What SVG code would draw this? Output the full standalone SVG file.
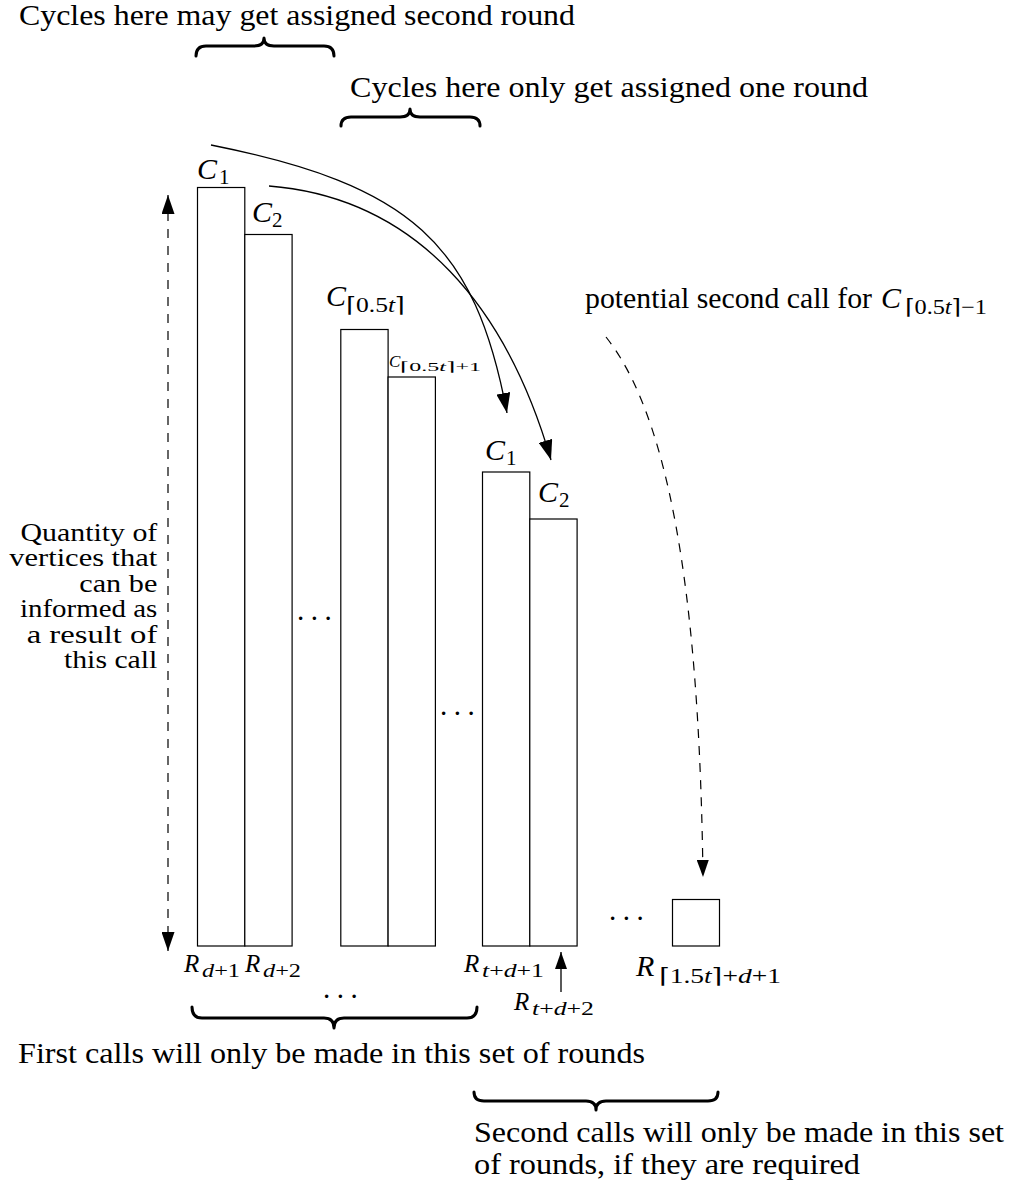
<svg xmlns="http://www.w3.org/2000/svg" width="1015" height="1184" viewBox="0 0 1015 1184">
  <style>
    text { font-family: "Liberation Serif", "DejaVu Serif", serif; fill: #000; }
    .txt { font-size: 29px; }
    .side { font-size: 25px; }
    .m { font-style: italic; font-size: 30px; }
    .ms { font-size: 21px; }
    .rm { font-style: italic; font-size: 25px; }
    .rs { font-size: 18px; }
    .it { font-style: italic; }
    .bar { fill: #fff; stroke: #000; stroke-width: 1.2; }
    .brace { fill: none; stroke: #000; stroke-width: 3; stroke-linecap: round; stroke-linejoin: round; }
    .curve { fill: none; stroke: #000; stroke-width: 1.3; }
    .dash { fill: none; stroke: #000; stroke-width: 1.2; stroke-dasharray: 9 8; }
    .dots { font-size: 29px; letter-spacing: 6.5px; }
  </style>
  <defs>
    <marker id="head" viewBox="0 0 20 14" refX="20" refY="7" markerWidth="20" markerHeight="14" markerUnits="userSpaceOnUse" orient="auto">
      <path d="M0,0 L20,7 L0,14 Z" fill="#000"/>
    </marker>
    <marker id="headDash" viewBox="0 0 19 13" refX="19" refY="6.5" markerWidth="19" markerHeight="13" markerUnits="userSpaceOnUse" orient="auto-start-reverse">
      <path d="M0,0 L19,6.5 L0,13 Z" fill="#000"/>
    </marker>
    <marker id="headSmall" viewBox="0 0 17 12" refX="17" refY="6" markerWidth="17" markerHeight="12" markerUnits="userSpaceOnUse" orient="auto">
      <path d="M0,0 L17,6 L0,12 Z" fill="#000"/>
    </marker>
  </defs>

  <!-- annotations at the top -->
  <g id="note-second-round">
    <text class="txt" x="19" y="25" textLength="556" lengthAdjust="spacingAndGlyphs">Cycles here may get assigned second round</text>
    <path class="brace" d="M196,56 Q196,46 206,46 L254,46 Q264,46 264,38 Q264,46 274,46 L324,46 Q334,46 334,56"/>
  </g>
  <g id="note-one-round">
    <text class="txt" x="350" y="97" textLength="518" lengthAdjust="spacingAndGlyphs">Cycles here only get assigned one round</text>
    <path class="brace" d="M341,126 Q341,117 351,117 L400,117 Q410,117 410,109 Q410,117 420,117 L470,117 Q480,117 480,126"/>
  </g>

  <!-- first group of round bars -->
  <g id="bar-c1">
    <rect class="bar" x="197.5" y="187.5" width="47.3" height="758.5"/>
    <text class="m" x="197" y="179">C</text>
    <text class="ms" x="219" y="184">1</text>
  </g>
  <g id="bar-c2">
    <rect class="bar" x="244.8" y="234.5" width="47.3" height="711.5"/>
    <text class="m" x="252" y="222">C</text>
    <text class="ms" x="272" y="227">2</text>
  </g>
  <g id="bar-c-half">
    <rect class="bar" x="340.8" y="329.5" width="47.3" height="616.5"/>
    <text class="m" x="326" y="306">C</text>
    <text class="ms" x="346" y="312" textLength="59" lengthAdjust="spacingAndGlyphs">⌈0.5<tspan class="it">t</tspan>⌉</text>
  </g>
  <g id="bar-c-half-next">
    <rect class="bar" x="388.1" y="377" width="47.3" height="569"/>
    <text class="m" style="font-size:17px" x="389" y="367">C</text>
    <text style="font-size:13px" x="400" y="371" textLength="81" lengthAdjust="spacingAndGlyphs">⌈0.5<tspan class="it">t</tspan>⌉+1</text>
  </g>

  <!-- second group of round bars -->
  <g id="bar-c1-again">
    <rect class="bar" x="482.5" y="472" width="47.3" height="474"/>
    <text class="m" x="485" y="460">C</text>
    <text class="ms" x="506" y="465">1</text>
  </g>
  <g id="bar-c2-again">
    <rect class="bar" x="529.8" y="519" width="47.3" height="427"/>
    <text class="m" x="538" y="502">C</text>
    <text class="ms" x="559" y="507">2</text>
  </g>
  <g id="bar-last">
    <rect class="bar" x="672.5" y="899.5" width="47" height="46.5"/>
  </g>

  <!-- ellipses -->
  <g id="ellipses">
    <text class="dots" x="297" y="620">...</text>
    <text class="dots" x="440" y="715">...</text>
    <text class="dots" x="323" y="998">...</text>
    <text class="dots" x="609" y="920">...</text>
  </g>

  <!-- round labels -->
  <g id="round-labels">
    <text class="rm" x="184" y="972">R</text>
    <text class="rs" x="202" y="977" textLength="38" lengthAdjust="spacingAndGlyphs"><tspan class="it">d</tspan>+1</text>
    <text class="rm" x="245" y="972">R</text>
    <text class="rs" x="263" y="977" textLength="38" lengthAdjust="spacingAndGlyphs"><tspan class="it">d</tspan>+2</text>
    <text class="rm" x="464" y="972">R</text>
    <text class="rs" x="482" y="977" textLength="62" lengthAdjust="spacingAndGlyphs"><tspan class="it">t</tspan>+<tspan class="it">d</tspan>+1</text>
    <text class="rm" x="514" y="1010">R</text>
    <text class="rs" x="532" y="1015" textLength="62" lengthAdjust="spacingAndGlyphs"><tspan class="it">t</tspan>+<tspan class="it">d</tspan>+2</text>
    <text class="m" x="636" y="976">R</text>
    <text class="ms" x="659" y="983" textLength="122" lengthAdjust="spacingAndGlyphs">⌈1.5<tspan class="it">t</tspan>⌉+<tspan class="it">d</tspan>+1</text>
  </g>

  <!-- side note -->
  <g id="side-note">
    <text class="side" x="20.5" y="541" textLength="136.8" lengthAdjust="spacingAndGlyphs">Quantity of</text>
    <text class="side" x="9.3" y="566" textLength="148" lengthAdjust="spacingAndGlyphs">vertices that</text>
    <text class="side" x="79.3" y="591.5" textLength="78" lengthAdjust="spacingAndGlyphs">can be</text>
    <text class="side" x="20" y="617" textLength="137.3" lengthAdjust="spacingAndGlyphs">informed as</text>
    <text class="side" x="26.7" y="642.5" textLength="130.6" lengthAdjust="spacingAndGlyphs">a result of</text>
    <text class="side" x="64" y="668" textLength="93.3" lengthAdjust="spacingAndGlyphs">this call</text>
  </g>

  <g id="note-potential">
    <text class="txt" x="585" y="308" textLength="287" lengthAdjust="spacingAndGlyphs">potential second call for</text>
    <text class="m" x="881" y="308">C</text>
    <text class="ms" x="905" y="314" textLength="82" lengthAdjust="spacingAndGlyphs">⌈0.5<tspan class="it">t</tspan>⌉−1</text>
  </g>

  <!-- annotations at the bottom -->
  <g id="note-first-calls">
    <path class="brace" d="M192,1007 Q192,1018 202,1018 L324,1018 Q334,1018 334,1028 Q334,1018 344,1018 L467,1018 Q477,1018 477,1007"/>
    <text class="txt" x="18" y="1063" textLength="627" lengthAdjust="spacingAndGlyphs">First calls will only be made in this set of rounds</text>
  </g>
  <g id="note-second-calls">
    <path class="brace" d="M474,1092 Q474,1101 484,1101 L586,1101 Q596,1101 596,1110 Q596,1101 606,1101 L708,1101 Q718,1101 718,1092"/>
    <text class="txt" x="474" y="1142" textLength="530" lengthAdjust="spacingAndGlyphs">Second calls will only be made in this set</text>
    <text class="txt" x="474" y="1174" textLength="386" lengthAdjust="spacingAndGlyphs">of rounds, if they are required</text>
  </g>

  <!-- connectors -->
  <g id="connectors">
    <path class="curve" d="M211,145 C411,185 475,243 507,413" marker-end="url(#head)"/>
    <path class="curve" d="M269,186 C419,198 507.5,310 551,460" marker-end="url(#head)"/>
    <path class="dash" d="M606,337 C680,430 700,650 703,877" marker-end="url(#headSmall)"/>
    <path class="dash" d="M168,195 L168,951" marker-start="url(#headDash)" marker-end="url(#headDash)"/>
    <path class="curve" d="M561,992 L561,952" marker-end="url(#headSmall)"/>
  </g>
</svg>
